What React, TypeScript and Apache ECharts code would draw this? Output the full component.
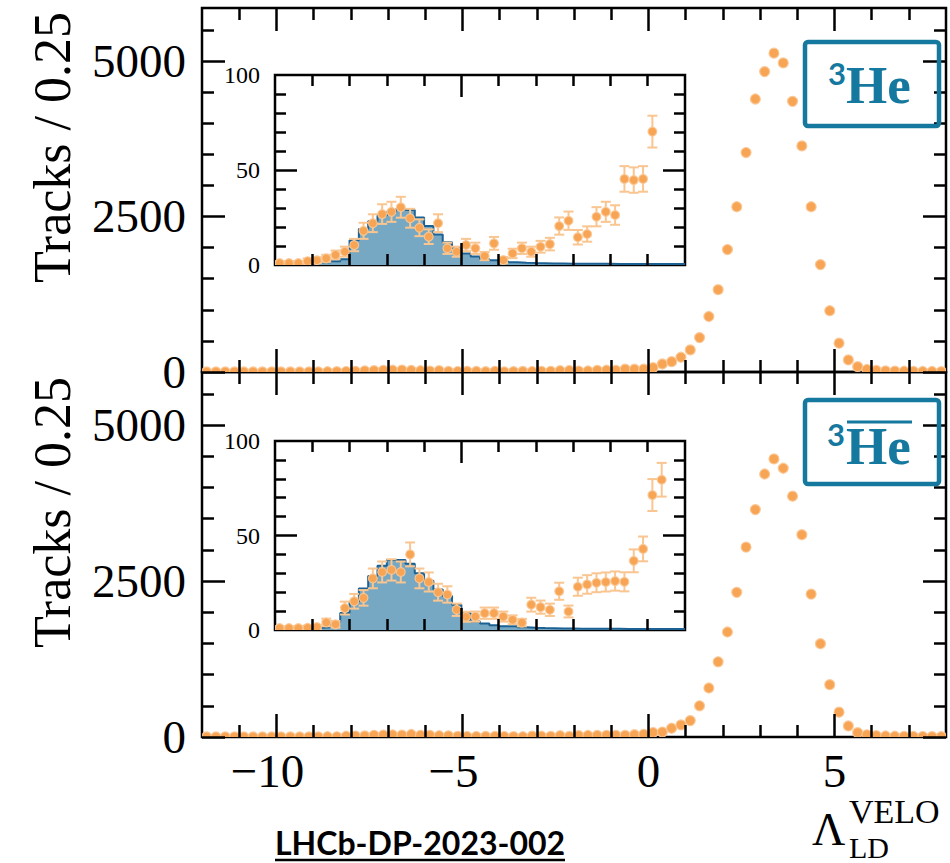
import React, { useEffect, useRef } from "react";
import * as echarts from "echarts";

// ---------- binning (bin width 0.25 from -12 to 8) ----------
const BIN_START = -12;
const BIN_WIDTH = 0.25;

// ---------- ³He (top panel) ----------
// bins -11.875 .. -10.125
const he3Low = [0.8, 1, 1, 1.2, 0.9, 1, 1, 1.1];
// bins -9.875 .. 0.875 (shown in inset)
const he3Mid = [
  1, 1, 1, 2, 2.5, 3.5, 5.3, 7, 10.5, 18, 22, 26.8, 28, 30.4, 24.6, 19.6, 14.9, 22, 8.8, 7, 10.5, 8.8,
  4.7, 11.4, 2.6, 6.1, 8.8, 7, 9.6, 11, 20.5, 23.3, 14.6, 16.3, 25.4, 28, 26.3, 45.3, 44.7, 45.3, 70.2,
  129, 166, 237,
];
// bins 1.125 .. 7.875
const he3High = [
  355, 553, 892, 1323, 1968, 2656, 3527, 4387, 4828, 5124, 4968, 4350, 3634, 2656, 1726, 984, 463, 194,
  86, 40, 25, 18, 14, 12, 10, 8, 8, 6,
];
// reference histogram (inset, bins -9.875 .. 0.875)
const he3Hist = [
  0.5, 0.5, 0.6, 0.8, 1, 1.5, 2, 3, 13, 19, 23, 26, 28, 29.5, 29, 25, 20.5, 16, 12, 9, 6, 4.5, 3, 2.5,
  2, 1.5, 1.2, 1, 0.9, 0.8, 0.8, 0.7, 0.7, 0.6, 0.6, 0.6, 0.5, 0.5, 0.5, 0.5, 0.5, 0.5, 0.5, 0.5,
];

// ---------- anti-³He (bottom panel) ----------
const he3barLow = [1, 0.9, 1, 1.1, 1, 0.8, 1, 1];
const he3barMid = [
  1, 1, 1, 1.2, 1.5, 4, 3, 11.6, 15.2, 17, 27.3, 30.7, 31.8, 30.7, 40, 27.3, 25.4, 20, 18.8, 10.7, 7,
  7.1, 8.9, 8.9, 7.1, 5.4, 3.9, 13.4, 12.1, 10.7, 20.5, 9.8, 22.9, 24.1, 25, 25.4, 25.9, 25.5, 36.6,
  42.9, 71.4, 79.5, 140, 194,
];
const he3barHigh = [
  263, 500, 785, 1205, 1683, 2318, 3044, 3645, 4215, 4457, 4307, 3860, 3242, 2290, 1495, 839, 398, 177,
  70, 35, 22, 16, 12, 10, 8, 7, 6, 5,
];
const he3barHist = [
  0.8, 0.8, 0.9, 1, 1.2, 1.5, 4.5, 9, 15, 22, 28.6, 34, 37, 37, 35, 30, 26, 21.4, 18, 13.4, 9, 4.5, 3.5,
  2.5, 2, 2, 1.5, 1.2, 1, 0.9, 0.8, 0.8, 0.7, 0.7, 0.6, 0.6, 0.6, 0.5, 0.5, 0.5, 0.5, 0.5, 0.5, 0.5,
];

// ---------- axis ticks / labels ----------
const mainXMinor = [-11, -9, -8, -7, -6, -4, -3, -2, -1, 1, 2, 3, 4, 6, 7];
const mainXMajor = [-10, -5, 0, 5];
const mainXLabels = [-10, -5, 0, 5];
const mainYMinor = [500, 1000, 1500, 2000, 3000, 3500, 4000, 4500, 5500];
const mainYMajor = [0, 2500, 5000];
const mainYLabels = [0, 2500, 5000];
const insetXMinor = [-9, -8, -7, -6, -4, -3, -2, -1, 0];
const insetXMajor = [-5];
const insetYMinor = [10, 20, 30, 40, 60, 70, 80, 90];
const insetYMajor = [50];
const insetYLabels = [0, 50, 100];

const ORANGE = "#f7a555";
const HALO = "rgba(250,200,150,0.9)";
const ERR = "#f9c590";
const BLUE_FILL = "#77a8c3";
const BLUE_LINE = "#1b6193";
const TEAL = "#15789e";
const SERIF = "'Liberation Serif', 'Times New Roman', serif";

const INSET_FIRST = 8; // index of first inset bin in the full array

function centre(i: number) {
  return BIN_START + BIN_WIDTH * (i + 0.5);
}

function pointsData(low: number[], mid: number[], high: number[]) {
  const all = [...low, ...mid, ...high];
  return all.map((v, i) => [centre(i), v, Math.sqrt(v)]);
}

function insetPoints(mid: number[]) {
  return mid.map((v, i) => [centre(i + INSET_FIRST), v, Math.sqrt(v)]);
}

function histSteps(vals: number[]) {
  const pts = vals.map((v, i) => [BIN_START + BIN_WIDTH * (i + INSET_FIRST), v]);
  pts.push([BIN_START + BIN_WIDTH * (vals.length + INSET_FIRST), vals[vals.length - 1]]);
  return pts;
}

function renderer(r: number, withErr: boolean) {
  return (_params: any, api: any) => {
    const x = api.value(0);
    const y = api.value(1);
    const e = api.value(2);
    const c = api.coord([x, y]);
    const children: any[] = [];
    if (withErr) {
      const t = api.coord([x, y + e]);
      const b = api.coord([x, y - e]);
      const st = { stroke: ERR, lineWidth: 2 };
      children.push({ type: "line", shape: { x1: c[0], y1: t[1], x2: c[0], y2: b[1] }, style: st });
      children.push({ type: "line", shape: { x1: c[0] - 5, y1: t[1], x2: c[0] + 5, y2: t[1] }, style: st });
      children.push({ type: "line", shape: { x1: c[0] - 5, y1: b[1], x2: c[0] + 5, y2: b[1] }, style: st });
    }
    children.push({
      type: "circle",
      shape: { cx: c[0], cy: c[1], r },
      style: { fill: ORANGE, stroke: HALO, lineWidth: 1.2 },
    });
    return { type: "group", children };
  };
}

type Spec = {
  min: number;
  max: number;
  minor: number[];
  major: number[];
  minorLen: number;
  majorLen: number;
  width: number;
};

function axesFor(grid: number, dim: "x" | "y", spec: Spec, label: any | null) {
  const positions = dim === "x" ? ["bottom", "top"] : ["left", "right"];
  const out: any[] = [];
  positions.forEach((p, pi) => {
    ["minor", "major"].forEach((kind) => {
      const isLabel = pi === 0 && kind === "minor" && label;
      out.push({
        type: "value",
        gridIndex: grid,
        position: p,
        min: spec.min,
        max: spec.max,
        z: 10,
        axisLine: { show: false, onZero: false },
        splitLine: { show: false },
        axisTick: {
          show: true,
          inside: true,
          length: kind === "minor" ? spec.minorLen : spec.majorLen,
          customValues: kind === "minor" ? spec.minor : spec.major,
          lineStyle: { color: "#000", width: spec.width },
        },
        axisLabel: isLabel ? label : { show: false },
      });
    });
  });
  return out;
}

export default function App() {
  const ref = useRef<HTMLDivElement>(null);
  useEffect(() => {
    if (!ref.current) return;
    const chart = echarts.init(ref.current, undefined, { renderer: "svg" });

    const mainX: Spec = { min: -12, max: 8, minor: mainXMinor, major: mainXMajor, minorLen: 12, majorLen: 23, width: 2.5 };
    const mainY: Spec = { min: 0, max: 5850, minor: mainYMinor, major: mainYMajor, minorLen: 12, majorLen: 23, width: 2.5 };
    const insX: Spec = { min: -10, max: 1, minor: insetXMinor, major: insetXMajor, minorLen: 11, majorLen: 22, width: 2.5 };
    const insY: Spec = { min: 0, max: 100, minor: insetYMinor, major: insetYMajor, minorLen: 11, majorLen: 22, width: 2.5 };

    const mainYLabel = {
      show: true,
      customValues: mainYLabels,
      margin: 16,
      fontFamily: SERIF,
      fontSize: 47,
      color: "#000",
      formatter: (v: number) => String(v),
    };
    const insetYLabel = {
      show: true,
      customValues: insetYLabels,
      margin: 15,
      fontFamily: SERIF,
      fontSize: 24,
      color: "#000",
      formatter: (v: number) => String(v),
    };
    const mainXLabel = {
      show: true,
      customValues: mainXLabels,
      margin: 10,
      formatter: (v: number) => (v < 0 ? `{n|\u2212${Math.abs(v)}}` : `{p|${v}}`),
      rich: {
        n: { fontFamily: SERIF, fontSize: 47, color: "#000", padding: [0, 18, 0, 0] },
        p: { fontFamily: SERIF, fontSize: 47, color: "#000" },
      },
    };

    const xAxis = [
      ...axesFor(0, "x", mainX, null),
      ...axesFor(1, "x", mainX, mainXLabel),
      ...axesFor(2, "x", insX, null),
      ...axesFor(3, "x", insX, null),
    ];
    const yAxis = [
      ...axesFor(0, "y", mainY, mainYLabel),
      ...axesFor(1, "y", mainY, mainYLabel),
      ...axesFor(2, "y", insY, insetYLabel),
      ...axesFor(3, "y", insY, insetYLabel),
    ];

    const gridBase = { show: true, borderColor: "#000", borderWidth: 2.5, backgroundColor: "transparent", containLabel: false, outerBoundsMode: "none" };

    const option: any = {
      animation: false,
      backgroundColor: "#fff",
      grid: [
        { ...gridBase, left: 202, top: 8, width: 744, height: 364 },
        { ...gridBase, left: 202, top: 372, width: 744, height: 365 },
        { ...gridBase, left: 275, top: 75, width: 410, height: 190 },
        { ...gridBase, left: 275, top: 441, width: 410, height: 189 },
      ],
      xAxis,
      yAxis,
      series: [
        {
          type: "custom",
          name: "3He",
          xAxisIndex: 0,
          yAxisIndex: 0,
          clip: true,
          renderItem: renderer(5, false),
          encode: { x: 0, y: 1 },
          data: pointsData(he3Low, he3Mid, he3High),
        },
        {
          type: "custom",
          name: "3Hebar",
          xAxisIndex: 4,
          yAxisIndex: 4,
          clip: true,
          renderItem: renderer(5, false),
          encode: { x: 0, y: 1 },
          data: pointsData(he3barLow, he3barMid, he3barHigh),
        },
        {
          type: "line",
          name: "3He ref",
          xAxisIndex: 8,
          yAxisIndex: 8,
          step: "end",
          symbol: "none",
          z: 4,
          lineStyle: { color: BLUE_LINE, width: 2 },
          areaStyle: { color: BLUE_FILL, opacity: 1 },
          data: histSteps(he3Hist),
        },
        {
          type: "custom",
          name: "3He inset",
          xAxisIndex: 8,
          yAxisIndex: 8,
          clip: true,
          z: 5,
          renderItem: renderer(4.4, true),
          encode: { x: 0, y: 1 },
          data: insetPoints(he3Mid),
        },
        {
          type: "line",
          name: "3Hebar ref",
          xAxisIndex: 12,
          yAxisIndex: 12,
          step: "end",
          symbol: "none",
          z: 4,
          lineStyle: { color: BLUE_LINE, width: 2 },
          areaStyle: { color: BLUE_FILL, opacity: 1 },
          data: histSteps(he3barHist),
        },
        {
          type: "custom",
          name: "3Hebar inset",
          xAxisIndex: 12,
          yAxisIndex: 12,
          clip: true,
          z: 5,
          renderItem: renderer(4.4, true),
          encode: { x: 0, y: 1 },
          data: insetPoints(he3barMid),
        },
      ],
      graphic: [
        {
          type: "text",
          x: 52,
          y: 12,
          rotation: Math.PI / 2,
          z: 100,
          style: { text: "Tracks / 0.25", font: `52px ${SERIF}`, fill: "#000", align: "right", verticalAlign: "middle", textAlign: "right", textVerticalAlign: "middle" },
        },
        {
          type: "text",
          x: 52,
          y: 377,
          rotation: Math.PI / 2,
          z: 100,
          style: { text: "Tracks / 0.25", font: `52px ${SERIF}`, fill: "#000", align: "right", verticalAlign: "middle", textAlign: "right", textVerticalAlign: "middle" },
        },
        // label boxes
        {
          type: "rect",
          z: 100,
          shape: { x: 805, y: 42, width: 134, height: 84, r: 3 },
          style: { fill: "transparent", stroke: TEAL, lineWidth: 4.5 },
        },
        {
          type: "text",
          x: 828,
          y: 73,
          z: 100,
          style: { text: "3", font: `bold 31px Lato, 'Noto Sans', sans-serif`, fill: TEAL, align: "left", verticalAlign: "middle", textAlign: "left", textVerticalAlign: "middle" },
        },
        {
          type: "text",
          x: 846,
          y: 85,
          z: 100,
          style: { text: "He", font: `bold 53px ${SERIF}`, fill: TEAL, align: "left", verticalAlign: "middle", textAlign: "left", textVerticalAlign: "middle" },
        },
        {
          type: "rect",
          z: 100,
          shape: { x: 805, y: 400, width: 134, height: 84, r: 3 },
          style: { fill: "transparent", stroke: TEAL, lineWidth: 4.5 },
        },
        {
          type: "text",
          x: 827,
          y: 434,
          z: 100,
          style: { text: "3", font: `bold 31px Lato, 'Noto Sans', sans-serif`, fill: TEAL, align: "left", verticalAlign: "middle", textAlign: "left", textVerticalAlign: "middle" },
        },
        {
          type: "text",
          x: 846,
          y: 446,
          z: 100,
          style: { text: "He", font: `bold 53px ${SERIF}`, fill: TEAL, align: "left", verticalAlign: "middle", textAlign: "left", textVerticalAlign: "middle" },
        },
        {
          type: "line",
          z: 100,
          shape: { x1: 847, y1: 422, x2: 912, y2: 422 },
          style: { stroke: TEAL, lineWidth: 3 },
        },
        // x-axis title
        {
          type: "text",
          x: 812,
          y: 829,
          z: 100,
          style: { text: "\u039B", font: `46px ${SERIF}`, fill: "#000", align: "left", verticalAlign: "middle", textAlign: "left", textVerticalAlign: "middle" },
        },
        {
          type: "text",
          x: 849,
          y: 811,
          z: 100,
          style: { text: "VELO", font: `34px ${SERIF}`, fill: "#000", align: "left", verticalAlign: "middle", textAlign: "left", textVerticalAlign: "middle" },
        },
        {
          type: "text",
          x: 849,
          y: 847,
          z: 100,
          style: { text: "LD", font: `30px ${SERIF}`, fill: "#000", align: "left", verticalAlign: "middle", textAlign: "left", textVerticalAlign: "middle" },
        },
        // document reference
        {
          type: "text",
          x: 275,
          y: 842,
          z: 100,
          style: { text: "LHCb-DP-2023-002", font: `bold 32px Lato, 'Noto Sans', sans-serif`, fill: "#000", align: "left", verticalAlign: "middle", textAlign: "left", textVerticalAlign: "middle" },
        },
        {
          type: "line",
          z: 100,
          shape: { x1: 275, y1: 860, x2: 565, y2: 860 },
          style: { stroke: "#000", lineWidth: 2.5 },
        },
      ],
    };

    chart.setOption(option);
    return () => chart.dispose();
  }, []);

  return (
    <div
      ref={ref}
      style={{ position: "fixed", left: 0, top: 0, width: 950, height: 863, background: "#fff" }}
    />
  );
}
